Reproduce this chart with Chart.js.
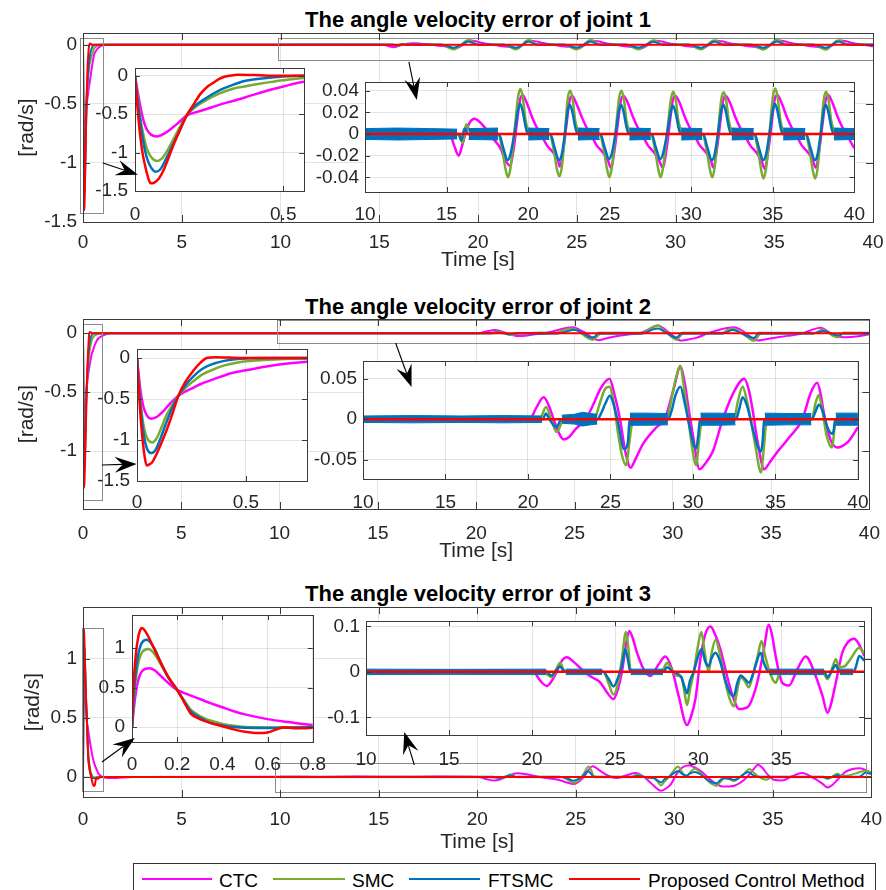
<!DOCTYPE html>
<html>
<head>
<meta charset="utf-8">
<script src="https://cdn.jsdelivr.net/npm/chart.js@4.4.1/dist/chart.umd.min.js"></script>
<style>
  body { margin: 0; background: #fff; width: 886px; height: 890px; overflow: hidden; position: relative;
         font-family: "Liberation Sans", Arial, Helvetica, sans-serif; }
  canvas { position: absolute; }
  .title { position: absolute; left: 178px; width: 600px; text-align: center; font-weight: bold;
           font-size: 22px; line-height: 22px; color: #000; white-space: nowrap; }
  .legend-box { position: absolute; left: 133px; top: 863px; width: 741px; height: 40px; border: 1px solid #333; }
  .legend-line { position: absolute; height: 2px; top: 878px; }
  .legend-text { position: absolute; top: 871px; font-size: 19px; line-height: 19px; color: #000; white-space: nowrap; }
</style>
</head>
<body>
<div class="title" style="top:9px">The angle velocity error of joint 1</div>
<div class="title" style="top:296px">The angle velocity error of joint 2</div>
<div class="title" style="top:583px">The angle velocity error of joint 3</div>
<div class="legend-box"></div>
<div id="legend"></div>

<script>
// ---- series names / tick labels ----
const seriesNames = ["CTC", "SMC", "FTSMC", "Proposed Control Method"];
const timeTicks = [0, 5, 10, 15, 20, 25, 30, 35, 40];
const zoomTimeTicks = [10, 15, 20, 25, 30, 35, 40];
const zoomTimeTicks3 = [10, 15, 20, 25, 30, 35];
const startTicks12 = [0, 0.5];
const startTicks3 = [0, 0.2, 0.4, 0.6, 0.8];
const main1Ticks = [-1.5, -1, -0.5, 0];
const main2Ticks = [-1, -0.5, 0];
const main3Ticks = [0, 0.5, 1];
const start12Ticks = [-1.5, -1, -0.5, 0];
const start3Ticks = [0, 0.5, 1];
const zoom1Ticks = [-0.04, -0.02, 0, 0.02, 0.04];
const zoom2Ticks = [-0.05, 0, 0.05];
const zoom3Ticks = [-0.1, 0, 0.1];

// ---- joint 1 ----  [time, error]
const j1Ctc = [[0,0],[0.01,-0.23],[0.02,-0.44],[0.03,-0.6],[0.04,-0.7],[0.055,-0.77],[0.075,-0.79],[0.1,-0.75],[0.125,-0.68],[0.15,-0.6],[0.174,-0.52],[0.22,-0.46],[0.26,-0.41],[0.3,-0.36],[0.33,-0.33],[0.39,-0.26],[0.45,-0.19],[0.5,-0.14],[0.57,-0.08],[0.7,-0.04],[0.85,-0.015],[1.0,-0.005],[1.3,0],
  [15.2,0],[15.45,-0.01],[15.74,-0.02],[15.95,-0.011],[16.15,0],[16.4,0.01],[16.72,0.014],[17.1,0.01],[17.5,0.003],[17.9,-0.005],[18.3,-0.013],[18.6,-0.024],
  [18.88,-0.029],[19.13,-0.012],[19.31,0.01],[19.48,0.03],[19.65,0.036],[19.88,0.03],[20.23,0.016],[20.53,0.006],[20.78,0],[21.13,-0.01],[21.53,-0.017],[21.83,-0.024],
  [21.93,-0.03],[22.18,-0.012],[22.36,0.01],[22.53,0.03],[22.7,0.035],[22.93,0.029],[23.28,0.016],[23.58,0.006],[23.83,0],[24.18,-0.01],[24.58,-0.017],[24.88,-0.024],
  [25.07,-0.031],[25.32,-0.012],[25.5,0.01],[25.67,0.03],[25.84,0.035],[26.07,0.03],[26.42,0.016],[26.72,0.006],[26.97,0],[27.32,-0.01],[27.72,-0.017],[28.02,-0.024],
  [28.25,-0.031],[28.5,-0.012],[28.68,0.01],[28.85,0.03],[29.02,0.035],[29.25,0.03],[29.6,0.016],[29.9,0.006],[30.15,0],[30.5,-0.01],[30.9,-0.017],[31.2,-0.024],
  [31.34,-0.031],[31.59,-0.012],[31.77,0.01],[31.94,0.03],[32.11,0.035],[32.34,0.03],[32.69,0.016],[32.99,0.006],[33.24,0],[33.59,-0.01],[33.99,-0.017],[34.29,-0.024],
  [34.5,-0.032],[34.75,-0.012],[34.93,0.01],[35.1,0.031],[35.27,0.036],[35.5,0.03],[35.85,0.016],[36.15,0.006],[36.4,0],[36.75,-0.01],[37.15,-0.017],[37.45,-0.024],
  [37.62,-0.031],[37.87,-0.012],[38.05,0.01],[38.22,0.03],[38.39,0.036],[38.62,0.03],[38.97,0.016],[39.27,0.006],[39.52,0],[39.87,-0.01],[40,-0.013]];
const j1Smc = [[0,0],[0.01,-0.32],[0.02,-0.6],[0.03,-0.8],[0.04,-0.95],[0.055,-1.06],[0.075,-1.11],[0.09,-1.08],[0.105,-1.0],[0.125,-0.86],[0.15,-0.68],[0.174,-0.52],[0.2,-0.42],[0.24,-0.32],[0.28,-0.24],[0.33,-0.17],[0.37,-0.14],[0.42,-0.105],[0.45,-0.087],[0.5,-0.06],[0.57,-0.03],[0.7,-0.01],[0.85,0],
  [15.7,0],[16.0,-0.008],[16.2,0.009],[16.45,0.002],[16.7,0],
  [18.16,0],[18.41,-0.014],[18.61,-0.032],[18.76,-0.04],[18.91,-0.032],[19.15,0],[19.38,0.034],[19.53,0.0415],[19.68,0.033],[19.83,0.014],[19.98,0.004],[20.13,0],
  [21.31,0],[21.56,-0.014],[21.76,-0.032],[21.91,-0.039],[22.06,-0.031],[22.25,0],[22.43,0.033],[22.58,0.04],[22.73,0.032],[22.88,0.013],[23.03,0.004],[23.18,0],
  [24.38,0],[24.63,-0.014],[24.83,-0.032],[24.98,-0.04],[25.13,-0.031],[25.35,0],[25.57,0.033],[25.72,0.04],[25.87,0.032],[26.02,0.013],[26.17,0.004],[26.32,0],
  [27.52,0],[27.77,-0.014],[27.97,-0.032],[28.12,-0.04],[28.27,-0.031],[28.51,0],[28.75,0.032],[28.9,0.039],[29.05,0.031],[29.2,0.013],[29.35,0.004],[29.5,0],
  [30.68,0],[30.93,-0.014],[31.13,-0.032],[31.28,-0.04],[31.43,-0.031],[31.63,0],[31.84,0.032],[31.99,0.0385],[32.14,0.031],[32.29,0.013],[32.44,0.004],[32.59,0],
  [33.83,0],[34.08,-0.014],[34.28,-0.033],[34.43,-0.041],[34.58,-0.032],[34.79,0],[35.0,0.034],[35.15,0.042],[35.3,0.033],[35.45,0.014],[35.6,0.004],[35.75,0],
  [36.99,0],[37.24,-0.014],[37.44,-0.033],[37.59,-0.041],[37.74,-0.032],[37.93,0],[38.12,0.032],[38.27,0.039],[38.42,0.031],[38.57,0.013],[38.72,0.004],[38.87,0],[40,0]];
const j1Ftsmc = [[0,0],[0.01,-0.36],[0.02,-0.66],[0.03,-0.9],[0.04,-1.07],[0.055,-1.2],[0.07,-1.25],[0.085,-1.22],[0.1,-1.12],[0.125,-0.92],[0.15,-0.72],[0.174,-0.52],[0.2,-0.4],[0.24,-0.29],[0.28,-0.2],[0.33,-0.12],[0.37,-0.07],[0.42,-0.04],[0.5,-0.01],[0.57,0],[1,0],
  [15.75,0],[15.9,-0.006],[16.1,0.005],[16.3,0],
  [18.21,0],[18.46,-0.012],[18.74,-0.024],[18.91,-0.019],[19.15,0],[19.38,0.022],[19.51,0.028],[19.68,0.02],[19.83,0.008],[19.98,0],
  [21.36,0],[21.61,-0.012],[21.89,-0.024],[22.06,-0.019],[22.25,0],[22.43,0.022],[22.56,0.027],[22.73,0.019],[22.88,0.007],[23.03,0],
  [24.43,0],[24.68,-0.012],[24.96,-0.023],[25.13,-0.018],[25.35,0],[25.57,0.022],[25.7,0.027],[25.87,0.019],[26.02,0.007],[26.17,0],
  [27.57,0],[27.82,-0.012],[28.1,-0.023],[28.27,-0.018],[28.51,0],[28.75,0.021],[28.88,0.026],[29.05,0.019],[29.2,0.007],[29.35,0],
  [30.73,0],[30.98,-0.012],[31.26,-0.024],[31.43,-0.019],[31.63,0],[31.84,0.022],[31.97,0.027],[32.14,0.019],[32.29,0.007],[32.44,0],
  [33.88,0],[34.13,-0.012],[34.41,-0.024],[34.58,-0.019],[34.79,0],[35.0,0.022],[35.13,0.028],[35.3,0.02],[35.45,0.008],[35.6,0],
  [37.04,0],[37.29,-0.012],[37.57,-0.024],[37.74,-0.019],[37.93,0],[38.12,0.022],[38.25,0.027],[38.42,0.019],[38.57,0.007],[38.72,0],[40,0]];
// FTSMC chattering band: bursts of [time, half-width]
const j1ChatterBand = [
  [[10.0,0.005],[12.0,0.0055],[14.0,0.005],[15.65,0.0045]],
  [[16.35,0.005],[18.15,0.0055]],
  [[20.0,0.0055],[21.3,0.005]],
  [[23.05,0.0055],[24.38,0.005]],
  [[26.2,0.0055],[27.52,0.005]],
  [[29.38,0.0055],[30.68,0.005]],
  [[32.47,0.0055],[33.83,0.005]],
  [[35.63,0.0055],[36.99,0.005]],
  [[38.75,0.0055],[40,0.005]]];
const j1Pcm = [[0,0],[0.008,-0.4],[0.017,-0.76],[0.026,-1.02],[0.034,-1.17],[0.043,-1.31],[0.053,-1.4],[0.065,-1.39],[0.08,-1.34],[0.095,-1.24],[0.11,-1.1],[0.13,-0.9],[0.15,-0.72],[0.174,-0.52],[0.2,-0.36],[0.22,-0.24],[0.245,-0.14],[0.265,-0.09],[0.29,-0.03],[0.32,0],[0.35,0.012],[0.4,0.008],[0.45,0],[1,0],[40,0]];

// ---- joint 2 ----
const j2Ctc = [[0,0],[0.01,-0.26],[0.02,-0.47],[0.03,-0.6],[0.045,-0.7],[0.067,-0.74],[0.09,-0.72],[0.12,-0.65],[0.15,-0.56],[0.19,-0.46],[0.22,-0.41],[0.26,-0.36],[0.29,-0.32],[0.35,-0.26],[0.44,-0.18],[0.5,-0.15],[0.6,-0.1],[0.7,-0.065],[0.78,-0.045],[0.9,-0.03],[1.1,-0.015],[1.4,0],
  [20.1,0],[20.5,0.014],[20.95,0.027],[21.3,0.015],[21.55,0],[21.85,-0.016],[22.15,-0.025],[22.5,-0.022],[22.9,-0.012],[23.5,0],[24.0,0.02],[24.4,0.038],[24.94,0.05],[25.25,0.03],[25.58,0],[25.9,-0.04],[26.22,-0.06],[26.5,-0.05],[26.99,-0.03],[27.79,-0.01],[28.29,0],[28.8,0.035],[29.24,0.0645],[29.5,0.045],[29.7,0.018],[30.0,-0.02],[30.4,-0.062],[30.7,-0.056],[31.2,-0.04],[31.81,0],[32.51,0.035],[33.11,0.05],[33.4,0.035],[33.61,0.012],[33.92,-0.028],[34.32,-0.062],[34.6,-0.055],[35.02,-0.043],[35.82,-0.023],[36.63,0],[37.13,0.032],[37.53,0.045],[37.75,0.03],[37.93,0.008],[38.33,-0.025],[38.73,-0.035],[39.44,-0.027],[40,-0.01]];
const j2Smc = [[0,0],[0.01,-0.36],[0.02,-0.63],[0.03,-0.82],[0.045,-0.97],[0.07,-1.03],[0.09,-0.98],[0.11,-0.86],[0.135,-0.7],[0.16,-0.58],[0.19,-0.46],[0.22,-0.37],[0.26,-0.28],[0.3,-0.2],[0.35,-0.14],[0.4,-0.09],[0.45,-0.06],[0.5,-0.04],[0.6,-0.02],[0.78,-0.005],[1,0],
  [20.7,0],[21.1,0.015],[21.4,0],[21.75,-0.016],[22.1,-0.002],[22.3,0],[24.0,0],[24.36,0.02],[24.66,0.037],[24.94,0.04],[25.2,0.02],[25.45,-0.016],[25.7,-0.045],[25.94,-0.057],[26.14,-0.03],[26.28,-0.008],[26.5,0],
  [28.4,0],[28.6,0.015],[28.9,0.045],[29.24,0.066],[29.45,0.04],[29.7,0.004],[29.95,-0.035],[30.2,-0.057],[30.35,-0.03],[30.5,-0.005],[30.7,0],
  [32.5,0],[32.7,0.02],[33.01,0.04],[33.25,0.025],[33.5,0],[33.8,-0.035],[34.12,-0.066],[34.3,-0.035],[34.42,-0.008],[34.6,0],
  [37.2,0],[37.43,0.02],[37.63,0.03],[37.85,0.01],[38.1,-0.02],[38.43,-0.035],[38.63,-0.004],[38.8,0],[40,0]];
const j2Ftsmc = [[0,0],[0.01,-0.4],[0.02,-0.7],[0.03,-0.92],[0.045,-1.1],[0.067,-1.16],[0.085,-1.12],[0.105,-1.0],[0.13,-0.82],[0.16,-0.62],[0.19,-0.46],[0.22,-0.34],[0.26,-0.22],[0.3,-0.13],[0.35,-0.07],[0.4,-0.035],[0.45,-0.015],[0.5,-0.005],[0.6,0],[1,0],
  [20.9,0],[21.08,0.007],[21.3,0],[21.5,-0.006],[21.73,-0.01],[21.9,-0.004],[22.0,0],
  [24.2,0],[24.45,0.008],[24.7,0.02],[24.96,0.029],[25.2,0.018],[25.5,-0.008],[25.82,-0.037],[26.05,-0.03],[26.14,-0.005],[26.2,0],
  [28.5,0],[28.7,0.01],[28.95,0.03],[29.24,0.04],[29.5,0.02],[29.8,-0.01],[30.05,-0.032],[30.2,-0.036],[30.32,-0.02],[30.4,-0.004],[30.45,0],
  [32.6,0],[32.8,0.012],[33.01,0.027],[33.3,0.015],[33.6,-0.01],[33.95,-0.035],[34.12,-0.04],[34.22,-0.028],[34.3,-0.004],[34.35,0],
  [37.2,0],[37.4,0.008],[37.63,0.018],[37.9,0.008],[38.15,-0.01],[38.43,-0.018],[38.53,-0.014],[38.6,-0.003],[38.65,0],[40,0]];
const j2ChatterBand = [
  [[10.0,0.004],[13.0,0.0045],[16.0,0.004],[18.5,0.0045],[20.85,0.004]],
  [[22.05,0.005],[22.8,0.006],[23.3,0.0085],[23.8,0.007],[24.2,0.006]],
  [[26.18,0.0075],[27.3,0.0075],[28.48,0.007]],
  [[30.45,0.0075],[31.5,0.0075],[32.58,0.007]],
  [[34.35,0.0075],[35.8,0.007],[37.18,0.007]],
  [[38.65,0.0075],[40,0.0075]]];
const j2Pcm = [[0,0],[0.008,-0.38],[0.016,-0.7],[0.025,-0.98],[0.035,-1.2],[0.044,-1.31],[0.055,-1.3],[0.07,-1.27],[0.09,-1.17],[0.11,-1.05],[0.136,-0.88],[0.16,-0.7],[0.19,-0.46],[0.22,-0.3],[0.26,-0.15],[0.29,-0.06],[0.32,0],[0.36,0.01],[0.42,0.005],[0.5,0],[40,0]];

// ---- joint 3 ----
const j3Ctc = [[0,0],[0.005,0.15],[0.012,0.33],[0.02,0.49],[0.03,0.62],[0.045,0.71],[0.077,0.745],[0.1,0.72],[0.13,0.64],[0.16,0.56],[0.2,0.47],[0.25,0.41],[0.3,0.355],[0.35,0.3],[0.4,0.25],[0.45,0.2],[0.5,0.16],[0.6,0.1],[0.7,0.06],[0.8,0.025],[0.9,0.01],[1.0,0],[1.3,-0.01],[1.7,-0.008],[2.5,0],
  [10,0.002],[12,0],[14,0.003],[16,0.001],[18,0.003],[20.07,0],[20.5,-0.02],[20.88,-0.031],[21.18,-0.02],[21.48,0],[21.75,0.022],[22.09,0.032],[22.5,0.022],[23.09,0.002],[23.6,-0.012],[24.1,-0.023],[24.5,-0.045],[24.9,-0.06],[25.15,-0.04],[25.41,0],[25.65,0.06],[25.85,0.09],[26.05,0.075],[26.31,0.043],[26.71,0.006],[27.12,-0.009],[27.62,0.017],[28.02,0.034],[28.42,0.006],[28.82,-0.053],[29.33,-0.117],[29.55,-0.1],[29.83,-0.06],[30.13,0.028],[30.4,0.08],[30.74,0.1],[31.04,0.08],[31.34,0.049],[31.84,-0.024],[32.14,-0.06],[32.44,-0.082],[32.8,-0.08],[33.05,-0.075],[33.55,-0.024],[33.95,0.049],[34.25,0.104],[34.45,0.08],[34.66,0.035],[35.06,-0.024],[35.46,-0.03],[35.97,0.006],[36.47,0.034],[37.07,-0.009],[37.48,-0.053],[37.78,-0.09],[38.0,-0.07],[38.28,-0.024],[38.68,0.043],[39.0,0.065],[39.39,0.073],[39.69,0.06],[40,0.035]];
const j3Smc = [[0,0],[0.005,0.22],[0.012,0.48],[0.02,0.68],[0.03,0.84],[0.045,0.95],[0.072,0.99],[0.09,0.96],[0.11,0.88],[0.13,0.78],[0.16,0.63],[0.2,0.47],[0.23,0.34],[0.26,0.22],[0.3,0.14],[0.35,0.08],[0.4,0.04],[0.45,0.015],[0.5,0],[0.6,-0.005],[0.8,0],
  [20.6,0],[21.0,-0.008],[21.18,-0.012],[21.45,0.005],[21.68,0.02],[21.9,0.005],[22.1,0],[24.3,0],[24.6,-0.025],[24.9,-0.05],[25.2,-0.02],[25.41,0.03],[25.65,0.088],[25.8,0.05],[25.91,0.006],[26.1,0],
  [27.8,0],[28.02,0.015],[28.12,0.02],[28.4,0.005],[28.7,-0.008],[28.99,-0.012],[29.15,-0.04],[29.33,-0.073],[29.5,-0.04],[29.73,0],[29.95,0.05],[30.19,0.088],[30.4,0.04],[30.63,0],[30.8,0.04],[31.04,0.07],[31.3,0.04],[31.64,-0.024],[31.9,-0.06],[32.14,-0.076],[32.35,-0.04],[32.55,-0.012],[32.8,-0.02],[33.05,-0.034],[33.3,-0.005],[33.55,0.03],[33.81,0.068],[34.0,0.04],[34.25,0.006],[34.66,-0.024],[34.96,0],
  [37.5,0],[37.78,-0.016],[38.08,0.01],[38.28,0.028],[38.5,0.01],[38.8,0.012],[39.2,0.03],[39.69,0.053],[40,0.04]];
const j3Ftsmc = [[0,0],[0.005,0.25],[0.012,0.55],[0.02,0.78],[0.03,0.95],[0.042,1.06],[0.065,1.106],[0.08,1.08],[0.1,0.99],[0.13,0.8],[0.16,0.63],[0.2,0.47],[0.23,0.33],[0.26,0.2],[0.3,0.12],[0.35,0.05],[0.4,0.02],[0.45,0],[0.5,-0.01],[0.6,-0.012],[0.7,-0.008],[0.8,-0.003],[1,0],
  [20.9,0],[21.0,-0.004],[21.18,-0.008],[21.45,0.004],[21.68,0.012],[21.9,0.002],[22.0,0],
  [24.25,0],[24.6,-0.015],[24.9,-0.032],[25.2,-0.01],[25.41,0.015],[25.61,0.05],[25.8,0.02],[25.91,0],
  [27.9,0],[28.12,0.01],[28.5,0],[28.75,-0.004],[28.99,-0.012],[29.15,-0.03],[29.33,-0.047],[29.5,-0.02],[29.73,0],[29.95,0.03],[30.19,0.05],[30.45,0.02],[30.63,0.013],[30.8,0.03],[31.04,0.042],[31.3,0.025],[31.64,-0.02],[31.9,-0.045],[32.14,-0.053],[32.35,-0.025],[32.55,-0.008],[32.8,-0.015],[33.05,-0.024],[33.3,-0.005],[33.5,0.02],[33.75,0.042],[33.95,0.02],[34.25,0],
  [37.6,0],[37.78,-0.012],[38.08,0.005],[38.28,0.015],[38.5,0],
  [39.35,0],[39.5,0.012],[39.69,0.035],[40,0.025]];
const j3ChatterBand = [
  [[10.0,0.006],[15.0,0.0055],[20.85,0.006]],
  [[22.02,0.006],[24.22,0.006]],
  [[25.93,0.006],[27.88,0.006]],
  [[34.28,0.006],[37.58,0.006]],
  [[38.52,0.006],[39.33,0.006]]];
const j3Pcm = [[0,0],[0.004,0.35],[0.01,0.68],[0.018,0.95],[0.027,1.13],[0.035,1.22],[0.043,1.255],[0.055,1.23],[0.07,1.16],[0.09,1.04],[0.11,0.92],[0.13,0.8],[0.16,0.64],[0.2,0.47],[0.23,0.32],[0.26,0.17],[0.3,0.1],[0.35,0.05],[0.4,0.01],[0.45,-0.03],[0.5,-0.06],[0.556,-0.077],[0.6,-0.07],[0.64,-0.03],[0.67,-0.005],[0.72,-0.015],[0.8,-0.01],[0.9,0],[40,0]];

// ---- build ----
const COLORS = ["#ff00ff", "#77ac30", "#0072bd", "#ff0000"];
const TEXT = "#262626";
Chart.defaults.font.family = '"Liberation Sans", Arial, Helvetica, sans-serif';

// one edge of the chattering band, with a gap between bursts
function bandEdge(bursts, sign) {
  const out = [];
  bursts.forEach(b => {
    b.forEach(([t, a]) => out.push({ x: t, y: sign * a }));
    out.push({ x: b[b.length - 1][0] + 0.01, y: null });
  });
  return out;
}

const joints = {
  1: { lines: [j1Ctc, j1Smc, j1Ftsmc, j1Pcm], band: j1ChatterBand },
  2: { lines: [j2Ctc, j2Smc, j2Ftsmc, j2Pcm], band: j2ChatterBand },
  3: { lines: [j3Ctc, j3Smc, j3Ftsmc, j3Pcm], band: j3ChatterBand },
};

const panels = [
  { id: "m1", joint: 1, main: true, box: [83, 33, 873, 222], padL: 68, padB: 51, xPad: 9, x: [0, 40], y: [-1.5, 0.1], xt: timeTicks, yt: main1Ticks,
    rects: [[-0.15, 0.055, 1.03, -1.427], [9.89, 0.055, 40.01, -0.129]] },
  { id: "m2", joint: 2, main: true, box: [83, 319, 873, 509], padL: 68, padB: 55, xPad: 13, x: [0, 40], y: [-1.49, 0.12], xt: timeTicks, yt: main2Ticks,
    rects: [[0.02, 0.075, 0.98, -1.41], [9.89, 0.112, 40, -0.086]] },
  { id: "m3", joint: 3, main: true, box: [83, 607, 873, 797], padL: 62, padB: 58, xPad: 11, x: [0, 40], y: [-0.17, 1.44], xt: timeTicks, yt: main3Ticks,
    rects: [[-0.07, 1.26, 1.03, -0.117], [9.72, 0.115, 39.71, -0.13]] },
  { id: "i1a", joint: 1, box: [135, 68, 304, 191], padL: 56, padB: 40, xPad: 12, yPad: 7, x: [0, 0.57], y: [-1.5, 0.1], xt: startTicks12, yt: start12Ticks },
  { id: "i1b", joint: 1, box: [365, 82, 856, 192], padL: 56, padB: 40, xPad: 11, x: [10, 40], y: [-0.0535, 0.048], xt: zoomTimeTicks, yt: zoom1Ticks },
  { id: "i2a", joint: 2, box: [137, 349, 307, 481], padL: 56, padB: 40, xPad: 10.5, yPad: 7, x: [0, 0.78], y: [-1.5, 0.11], xt: startTicks12, yt: start12Ticks },
  { id: "i2b", joint: 2, box: [363, 361, 861, 479], padL: 56, padB: 40, xPad: 12.5, x: [10, 40], y: [-0.074, 0.072], xt: zoomTimeTicks, yt: zoom2Ticks },
  { id: "i3a", joint: 3, box: [132, 615, 317, 742], padL: 56, padB: 40, xPad: 11, yPad: 7, x: [0, 0.8], y: [-0.19, 1.42], xt: startTicks3, yt: start3Ticks },
  { id: "i3b", joint: 3, box: [366, 621, 864, 735], padL: 56, padB: 40, xPad: 13, x: [10, 39.98], y: [-0.139, 0.112], xt: zoomTimeTicks3, yt: zoom3Ticks },
];

const framePlugin = {
  id: "frame",
  beforeDraw(chart, args, o) {
    if (!o.fill) return;
    const a = chart.chartArea, c = chart.ctx;
    c.save();
    c.fillStyle = "#fff";
    c.fillRect(a.left, a.top, a.width, a.height);
    c.restore();
  },
  afterDraw(chart, args, o) {
    const a = chart.chartArea, c = chart.ctx, xs = chart.scales.x, ys = chart.scales.y;
    c.save();
    c.lineWidth = 1;
    c.strokeStyle = "#8c8c8c";
    (o.rects || []).forEach(r => {
      const x1 = Math.round(xs.getPixelForValue(r[0])) + 0.5, x2 = Math.round(xs.getPixelForValue(r[2])) + 0.5;
      const y1 = Math.round(ys.getPixelForValue(r[1])) + 0.5, y2 = Math.round(ys.getPixelForValue(r[3])) + 0.5;
      c.strokeRect(x1, y1, x2 - x1, y2 - y1);
    });
    c.strokeStyle = "#3a3a3a";
    const tl = o.tick;
    c.beginPath();
    xs.ticks.forEach(t => {
      const px = Math.round(xs.getPixelForValue(t.value)) + 0.5;
      c.moveTo(px, a.bottom); c.lineTo(px, a.bottom - tl);
      c.moveTo(px, a.top); c.lineTo(px, a.top + tl);
    });
    ys.ticks.forEach(t => {
      const py = Math.round(ys.getPixelForValue(t.value)) + 0.5;
      c.moveTo(a.left, py); c.lineTo(a.left + tl, py);
      c.moveTo(a.right, py); c.lineTo(a.right - tl, py);
    });
    c.stroke();
    c.strokeRect(Math.round(a.left) + 0.5, Math.round(a.top) + 0.5, Math.round(a.width), Math.round(a.height));
    c.restore();
  },
};

const charts = {};
const PAD_T = 20, PAD_R = 20;

panels.forEach(p => {
  const [L, T, R, B] = p.box;
  const w = R - L + p.padL + PAD_R, h = B - T + PAD_T + p.padB;
  const cv = document.createElement("canvas");
  cv.width = w; cv.height = h;
  cv.style.left = (L - p.padL) + "px";
  cv.style.top = (T - PAD_T) + "px";
  cv.style.width = w + "px"; cv.style.height = h + "px";
  document.body.appendChild(cv);
  const lw = p.main ? 2 : 2.5;
  const jd = joints[p.joint];
  const datasets = jd.lines.map((arr, k) => ({
    label: seriesNames[k],
    data: arr.map(q => ({ x: q[0], y: q[1] })),
    borderColor: COLORS[k],
    borderWidth: lw,
    pointRadius: 0,
    fill: false,
    cubicInterpolationMode: "monotone",
    order: 4 - k,
    clip: 0,
  }));
  // chattering band of FTSMC: upper edge filled down to the lower edge
  [1, -1].forEach((sign, i) => datasets.push({
    label: seriesNames[2],
    data: bandEdge(jd.band, sign),
    borderColor: COLORS[2],
    backgroundColor: COLORS[2],
    borderWidth: 1,
    pointRadius: 0,
    fill: i === 0 ? "+1" : false,
    tension: 0,
    spanGaps: false,
    order: 2,
    clip: 0,
  }));
  const tickFont = { size: 19 };
  charts[p.id] = new Chart(cv, {
    type: "line",
    data: { datasets },
    options: {
      responsive: false,
      animation: false,
      devicePixelRatio: 1,
      layout: { padding: { top: PAD_T, right: PAD_R, left: 0, bottom: 0 } },
      events: [],
      plugins: {
        legend: { display: false },
        tooltip: { enabled: false },
        filler: { propagate: false },
        frame: { fill: !p.main, rects: p.rects || [], tick: p.main ? 7 : 5 },
      },
      scales: {
        x: {
          type: "linear", min: p.x[0], max: p.x[1],
          afterFit: s => { s.height = p.padB; },
          afterBuildTicks: s => { s.ticks = p.xt.map(v => ({ value: v })); },
          grid: { color: "rgba(0,0,0,0.11)", drawTicks: false },
          border: { display: false },
          ticks: { padding: p.xPad, font: tickFont, color: TEXT, autoSkip: false, maxRotation: 0, callback: v => String(v) },
          title: p.main ? { display: true, text: "Time [s]", font: { size: 21 }, color: TEXT, padding: 0 } : { display: false },
        },
        y: {
          type: "linear", min: p.y[0], max: p.y[1],
          afterFit: s => { s.width = p.padL; },
          afterBuildTicks: s => { s.ticks = p.yt.map(v => ({ value: v })); },
          grid: { color: "rgba(0,0,0,0.11)", drawTicks: false },
          border: { display: false },
          ticks: { padding: p.yPad || 6, font: tickFont, color: TEXT, autoSkip: false, callback: v => String(v) },
          title: p.main ? { display: true, text: "[rad/s]", font: { size: 21 }, color: TEXT, padding: 0 } : { display: false },
        },
      },
    },
    plugins: [framePlugin],
  });
});

// ---- arrows pointing at the zoomed views (main-axis data coordinates) ----
const arrows = [
  { chart: "m1", from: [1.01, -1.0], to: [2.78, -1.10] },
  { chart: "m1", from: [16.5, -0.145], to: [16.9, -0.467] },
  { chart: "m2", from: [0.96, -1.117], to: [2.73, -1.109] },
  { chart: "m2", from: [15.9, -0.083], to: [16.71, -0.456] },
  { chart: "m3", from: [0.96, 0.126], to: [2.63, 0.33] },
  { chart: "m3", from: [16.81, 0.101], to: [16.3, 0.381] },
];
const ov = document.createElement("canvas");
ov.width = 886; ov.height = 890;
ov.style.left = "0px"; ov.style.top = "0px"; ov.style.pointerEvents = "none";
document.body.appendChild(ov);
const octx = ov.getContext("2d");
arrows.forEach(a => {
  const ch = charts[a.chart];
  const ox = parseFloat(ch.canvas.style.left), oy = parseFloat(ch.canvas.style.top);
  const x1 = ox + ch.scales.x.getPixelForValue(a.from[0]), y1 = oy + ch.scales.y.getPixelForValue(a.from[1]);
  const x2 = ox + ch.scales.x.getPixelForValue(a.to[0]), y2 = oy + ch.scales.y.getPixelForValue(a.to[1]);
  const ang = Math.atan2(y2 - y1, x2 - x1);
  const len = 22, half = 8, notch = 14;
  const ux = Math.cos(ang), uy = Math.sin(ang), nx = -uy, ny = ux;
  octx.strokeStyle = "#000"; octx.fillStyle = "#000"; octx.lineWidth = 1.1;
  octx.beginPath(); octx.moveTo(x1, y1); octx.lineTo(x2 - ux * notch, y2 - uy * notch); octx.stroke();
  octx.beginPath();
  octx.moveTo(x2, y2);
  octx.lineTo(x2 - ux * len + nx * half, y2 - uy * len + ny * half);
  octx.lineTo(x2 - ux * notch, y2 - uy * notch);
  octx.lineTo(x2 - ux * len - nx * half, y2 - uy * len - ny * half);
  octx.closePath(); octx.fill();
});

// ---- legend ----
const legendSlots = [[142, 212, 219], [273, 345, 352], [409, 480, 488], [569, 640, 648]];
const legend = document.getElementById("legend");
seriesNames.forEach((name, k) => {
  const [l0, l1, tx] = legendSlots[k];
  const line = document.createElement("div");
  line.className = "legend-line";
  line.style.left = l0 + "px"; line.style.width = (l1 - l0) + "px"; line.style.background = COLORS[k];
  const txt = document.createElement("div");
  txt.className = "legend-text";
  txt.style.left = tx + "px";
  txt.textContent = name;
  legend.appendChild(line); legend.appendChild(txt);
});
</script>
</body>
</html>
